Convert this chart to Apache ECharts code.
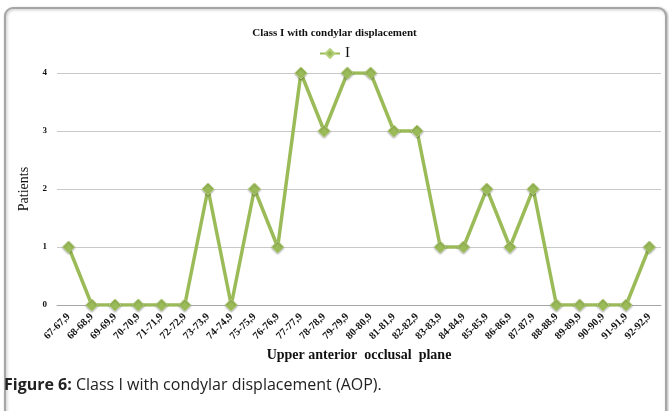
<!DOCTYPE html>
<html><head><meta charset="utf-8">
<script src="https://cdn.jsdelivr.net/npm/echarts@6/dist/echarts.min.js"></script>
<style>html,body{margin:0;padding:0;background:#fff;}#c{width:669px;height:411px;}</style>
</head><body><div id="c"></div>
<script>
const categories = ['67-67,9','68-68,9','69-69,9','70-70,9','71-71,9','72-72,9','73-73,9','74-74,9','75-75,9','76-76,9','77-77,9','78-78,9','79-79,9','80-80,9','81-81,9','82-82,9','83-83,9','84-84,9','85-85,9','86-86,9','87-87,9','88-88,9','89-89,9','90-90,9','91-91,9','92-92,9'];
const valuesI = [1,0,0,0,0,0,2,0,2,1,4,3,4,4,3,3,1,1,2,1,2,0,0,0,0,1];
const yTicks = [0,1,2,3,4];

const chart = echarts.init(document.getElementById('c'), null, {renderer:'canvas'});
const serif = '"Liberation Serif", "DejaVu Serif", serif';
const sans = '"Open Sans", "Noto Sans", sans-serif';
chart.setOption({
  animation:false,
  backgroundColor:'#fff',
  graphic:[
    {type:'rect', z:-1, shape:{x:5,y:8,width:661,height:420,r:8}, style:{fill:'#fff', stroke:'#a6a6a6', lineWidth:2, shadowColor:'rgba(0,0,0,0.25)', shadowBlur:3, shadowOffsetX:1, shadowOffsetY:1}},
    {type:'text', left:4, top:377, style:{text:'{b|Figure 6:} Class I with condylar displacement (AOP).', rich:{b:{fontWeight:'bold', fontSize:16, fontFamily:sans, fill:'#222'}}, fontSize:16, fontFamily:sans, fill:'#222'}}
  ],
  title:{text:'Class I with condylar displacement', left:'center', top:23, textStyle:{fontFamily:serif, fontSize:11, fontWeight:'bold', color:'#111'}},
  legend:{top:41, left:'center', itemWidth:20, itemHeight:11, data:['I'], textStyle:{fontFamily:serif, fontSize:15, color:'#111'}, itemGap:2},
  grid:{left:57, right:8, top:73, bottom:106, containLabel:false},
  xAxis:{type:'category', data:categories, boundaryGap:true,
    name:'Upper anterior  occlusal  plane', nameLocation:'middle', nameGap:43,
    nameTextStyle:{fontFamily:serif, fontSize:14, fontWeight:'bold', color:'#111'},
    axisLine:{lineStyle:{color:'#a6a6a6'}}, axisTick:{show:false},
    axisLabel:{rotate:45, interval:0, fontFamily:serif, fontSize:10.5, fontWeight:'bold', color:'#111', margin:10}},
  yAxis:{type:'value', min:yTicks[0], max:yTicks[yTicks.length-1], interval:1,
    name:'Patients', nameLocation:'middle', nameGap:24, nameRotate:90,
    nameTextStyle:{fontFamily:serif, fontSize:14, color:'#111'},
    axisLine:{show:false}, axisTick:{show:false},
    splitLine:{lineStyle:{color:'#c8c8c8'}},
    axisLabel:{fontFamily:serif, fontSize:9, fontWeight:'bold', color:'#111', margin:10}},
  series:[{name:'I', type:'line', data:valuesI, symbol:'diamond', symbolSize:12,
    lineStyle:{color:'#9bbb59', width:3.5},
    itemStyle:{color:'#9bbb59', borderColor:'#b5d07a', borderWidth:1, shadowColor:'rgba(0,0,0,0.3)', shadowBlur:2, shadowOffsetY:1}}]
});
</script></body></html>
